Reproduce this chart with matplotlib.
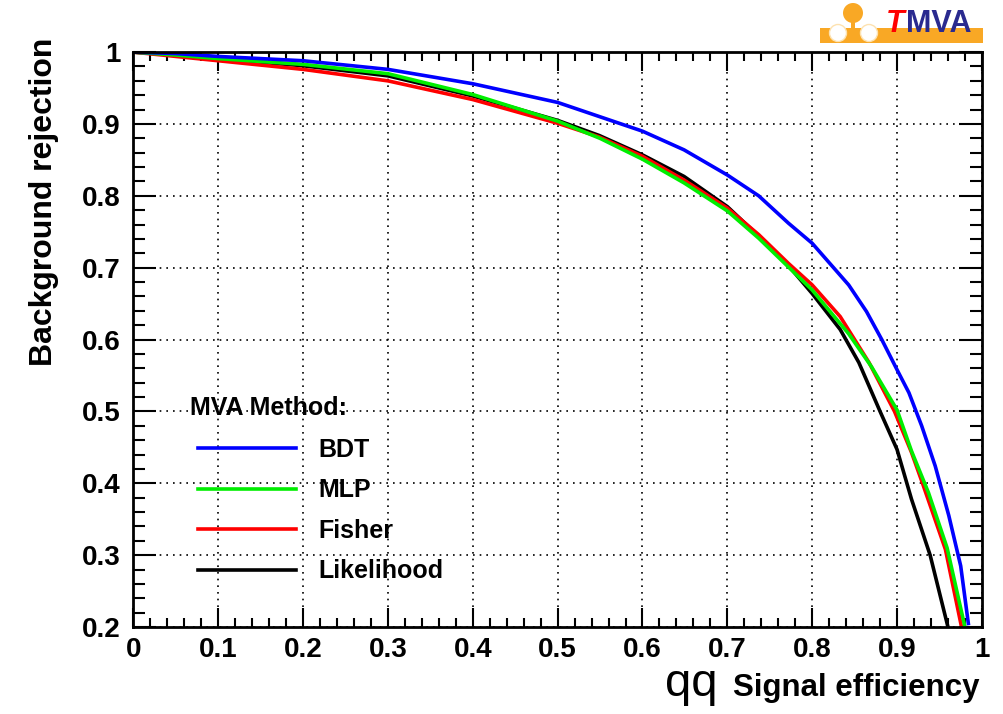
import matplotlib
matplotlib.use("Agg")
import matplotlib.pyplot as plt
from matplotlib.patches import Circle, Rectangle
from matplotlib.ticker import MultipleLocator

plt.rcParams["font.family"] = ["Liberation Sans", "DejaVu Sans"]
plt.rcParams["font.weight"] = "bold"

# ROC curves
bdt_x = [0, 0.05, 0.1, 0.2, 0.3, 0.4, 0.5, 0.6, 0.649, 0.7, 0.737, 0.772, 0.8,
         0.843, 0.864, 0.882, 0.9, 0.914, 0.929, 0.945, 0.961, 0.975, 0.984]
bdt_y = [1.0, 0.998, 0.994, 0.988, 0.976, 0.956, 0.930, 0.890, 0.864, 0.829,
         0.800, 0.762, 0.734, 0.676, 0.639, 0.600, 0.558, 0.526, 0.480, 0.424,
         0.355, 0.285, 0.205]

mlp_x = [0, 0.05, 0.1, 0.2, 0.3, 0.4, 0.5, 0.55, 0.6, 0.649, 0.7, 0.737, 0.772,
         0.8, 0.843, 0.87, 0.9, 0.917, 0.937, 0.959, 0.98]
mlp_y = [1.0, 0.996, 0.991, 0.983, 0.970, 0.941, 0.904, 0.880, 0.851, 0.818,
         0.779, 0.741, 0.701, 0.669, 0.608, 0.562, 0.502, 0.445, 0.387, 0.310, 0.200]

fisher_x = [0, 0.05, 0.1, 0.2, 0.3, 0.4, 0.5, 0.549, 0.6, 0.649, 0.7, 0.737,
            0.772, 0.8, 0.833, 0.867, 0.897, 0.917, 0.93, 0.957, 0.976]
fisher_y = [1.0, 0.994, 0.988, 0.976, 0.960, 0.934, 0.901, 0.882, 0.855, 0.822,
            0.783, 0.746, 0.706, 0.676, 0.632, 0.568, 0.500, 0.443, 0.400, 0.308, 0.200]

lik_x = [0, 0.05, 0.1, 0.2, 0.3, 0.4, 0.5, 0.549, 0.6, 0.649, 0.7, 0.737, 0.772,
         0.8, 0.833, 0.855, 0.88, 0.9, 0.917, 0.939, 0.96]
lik_y = [1.0, 0.996, 0.991, 0.981, 0.967, 0.939, 0.905, 0.884, 0.857, 0.827,
         0.785, 0.744, 0.703, 0.664, 0.614, 0.568, 0.500, 0.447, 0.378, 0.300, 0.200]

methods = ["BDT", "MLP", "Fisher", "Likelihood"]
colors = ["#0000ff", "#00ee00", "#ff0000", "#000000"]
series = [(bdt_x, bdt_y), (mlp_x, mlp_y), (fisher_x, fisher_y), (lik_x, lik_y)]

fig = plt.figure(figsize=(10.04, 7.14), dpi=100)
ax = fig.add_axes([0.1328, 0.1218, 0.8452, 0.8052])

# draw in reverse so BDT ends on top like the original
for name, col, (xs, ys) in reversed(list(zip(methods, colors, series))):
    ax.plot(xs, ys, color=col, lw=2.6, label=name, solid_joinstyle="round")

ax.set_xlim(0, 1)
ax.set_ylim(0.2, 1)
ax.xaxis.set_major_locator(MultipleLocator(0.1))
ax.xaxis.set_minor_locator(MultipleLocator(0.02))
ax.yaxis.set_major_locator(MultipleLocator(0.1))
ax.yaxis.set_minor_locator(MultipleLocator(0.02))


def fmt(v, pos):
    if abs(v) < 1e-9:
        return "0"
    if abs(v - 1) < 1e-9:
        return "1"
    return f"{v:.1f}"


ax.xaxis.set_major_formatter(plt.FuncFormatter(fmt))
ax.yaxis.set_major_formatter(plt.FuncFormatter(fmt))

ax.tick_params(axis="both", which="both", direction="in", top=True, right=True,
               width=1.5, labelsize=20)
ax.tick_params(axis="x", which="major", length=14, pad=7)
ax.tick_params(axis="x", which="minor", length=6.5)
ax.tick_params(axis="y", which="major", length=16.5, pad=9)
ax.tick_params(axis="y", which="minor", length=8.5)
for sp in ax.spines.values():
    sp.set_linewidth(2)

ax.grid(True, which="major", color="black", linestyle=(0, (1, 3)), linewidth=1.2)

handles, labels = ax.get_legend_handles_labels()
ax.legend(handles[::-1], labels[::-1], frameon=False, loc="upper left",
          bbox_to_anchor=(0.0762, 0.329), borderaxespad=0, borderpad=0,
          fontsize=18, handlelength=3.92, handletextpad=0.88, labelspacing=0.66)
ax.text(0.0668, 0.381, "MVA Method:", transform=ax.transAxes, ha="left",
        va="center", fontsize=18, fontweight="bold")

fig.text(0.976, 0.025, "Signal efficiency", ha="right", va="baseline",
         fontsize=22.5, fontweight="bold")
fig.text(0.662, 0.025, "qq", ha="left", va="baseline", fontsize=34,
         fontweight="normal")
fig.text(0.044, 0.947, "Background rejection", rotation=90, ha="center",
         va="top", fontsize=23, fontweight="bold")

# TMVA logo in the top right corner
orange = "#f9a825"
fig.patches.append(Rectangle((820, 714 - 43), 163, 15, transform=None,
                             facecolor=orange, edgecolor="none"))
fig.patches.append(Circle((853, 714 - 13), 10, transform=None,
                          facecolor=orange, edgecolor="none"))
fig.patches.append(Rectangle((851, 714 - 30), 4, 10, transform=None,
                             facecolor=orange, edgecolor="none"))
for cx in (838, 869):
    fig.patches.append(Circle((cx, 714 - 33), 8.5, transform=None,
                              facecolor="white", edgecolor="#fde2b0", lw=1))
fig.text(0.882, 0.955, "T", color="#ff0000", fontsize=22, fontweight="bold",
         fontstyle="italic", ha="left", va="baseline")
fig.text(0.902, 0.955, "MVA", color="#2a2a8f", fontsize=22, fontweight="bold",
         ha="left", va="baseline")

fig.savefig("out.png", dpi=100)
